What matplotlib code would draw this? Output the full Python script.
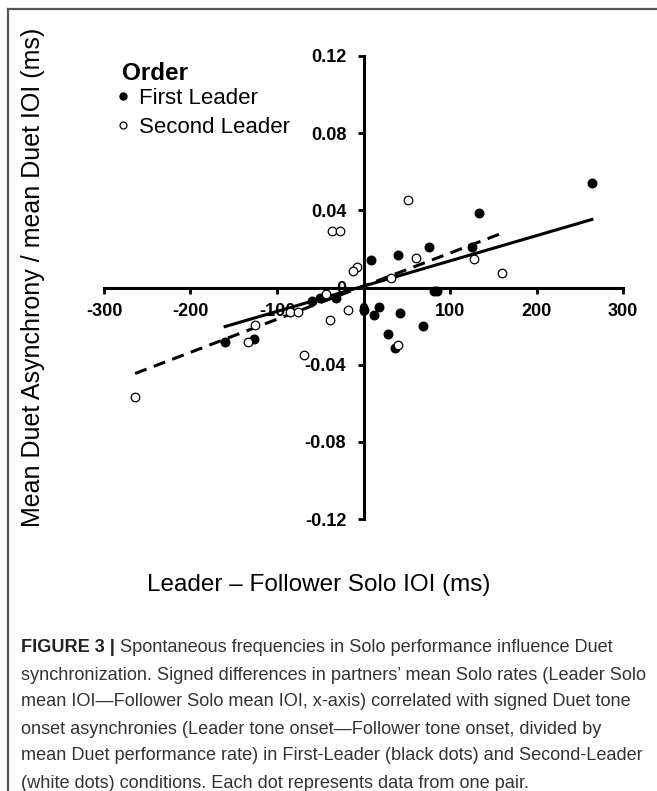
import numpy as np
import matplotlib
matplotlib.use('Agg')
from matplotlib import pyplot as plt
from matplotlib.lines import Line2D

plt.rcParams['axes.unicode_minus'] = False

# First Leader (black dots)
first_x = [264, 133, 126, 76, 40, 9, -160, -127, -59, -50, -32, 0, 18, 12, 42, 69, 28, 36, 81, 85]
first_y = [0.0544, 0.0388, 0.0211, 0.0208, 0.0170, 0.0140, -0.0284, -0.0267, -0.0071, -0.0055,
           -0.0055, -0.0116, -0.0099, -0.0140, -0.0133, -0.0197, -0.0241, -0.0315, -0.0016, -0.0016]

# Second Leader (white dots)
second_x = [51, -36, -27, 61, 128, -8, -12, 32, 160, -43, -18, -39, -69, -85, -76, -125, -133, -264, 40]
second_y = [0.0452, 0.0292, 0.0292, 0.0154, 0.0147, 0.0106, 0.0085, 0.0048, 0.0075, -0.0036,
            -0.0116, -0.0168, -0.0348, -0.0125, -0.0125, -0.0192, -0.0284, -0.0566, -0.0298]

# regression lines (slope, intercept)
first_fit = (1.309e-4, 0.0007)
second_fit = (1.715e-4, 0.0007)

x_ticks = [-300, -200, -100, 0, 100, 200, 300]
y_ticks = [-0.12, -0.08, -0.04, 0, 0.04, 0.08, 0.12]
y_ticklabels = ['-0.12', '-0.08', '-0.04', '0', '0.04', '0.08', '0.12']

caption_lines = [
    'Spontaneous frequencies in Solo performance influence Duet',
    'synchronization. Signed differences in partners\u2019 mean Solo rates (Leader Solo',
    'mean IOI\u2014Follower Solo mean IOI, x-axis) correlated with signed Duet tone',
    'onset asynchronies (Leader tone onset\u2014Follower tone onset, divided by',
    'mean Duet performance rate) in First-Leader (black dots) and Second-Leader',
    '(white dots) conditions. Each dot represents data from one pair.',
]

W, H = 657, 791
fig = plt.figure(figsize=(W / 100, H / 100), dpi=100)
ax = fig.add_axes([104 / W, 1 - 519 / H, 519 / W, 463 / H])

ax.set_xlim(-300, 300)
ax.set_ylim(-0.12, 0.12)
for s in ['top', 'right']:
    ax.spines[s].set_visible(False)
ax.spines['left'].set_position(('data', 0))
ax.spines['bottom'].set_position(('data', 0))
ax.spines['left'].set_linewidth(2.2)
ax.spines['bottom'].set_linewidth(2.2)
ax.set_xticks(x_ticks)
ax.set_yticks(y_ticks)
ax.set_yticklabels(y_ticklabels)
ax.tick_params(direction='out', length=4.5, width=2, labelsize=13, pad=7)
ax.tick_params(axis='y', pad=8)
for lab in ax.get_xticklabels() + ax.get_yticklabels():
    lab.set_fontweight('bold')
    lab.set_family('Liberation Sans')
ax.patch.set_alpha(0)

# regression lines
xs1 = np.array([min(first_x), max(first_x)])
ax.plot(xs1, first_fit[0] * xs1 + first_fit[1], color='black', lw=2.2, zorder=3)
xs2 = np.array([min(second_x), max(second_x)])
ax.plot(xs2, second_fit[0] * xs2 + second_fit[1], color='black', lw=2.2,
        dashes=(4, 2.5), zorder=3)

ax.scatter(first_x, first_y, s=38, color='black', zorder=4, clip_on=False)
ax.scatter(second_x, second_y, s=38, facecolor='white', edgecolor='black',
           linewidth=0.9, zorder=4, clip_on=False)

# legend
fig.text(122 / W, 1 - 74 / H, 'Order', fontsize=17.5, fontweight='bold',
         family='Liberation Sans', va='center', ha='left')
leg_handles = [
    Line2D([], [], marker='o', ls='', color='black', markersize=5),
    Line2D([], [], marker='o', ls='', markerfacecolor='white',
           markeredgecolor='black', markersize=5, markeredgewidth=0.9),
]
fig.legend(leg_handles, ['First Leader', 'Second Leader'], loc='upper left',
           bbox_to_anchor=(116 / W, 1 - 88 / H), frameon=False,
           prop={'family': 'Liberation Sans', 'size': 16}, handlelength=0.6,
           handletextpad=0.45, labelspacing=0.35, borderpad=0, borderaxespad=0)

# axis titles
fig.text(33 / W, 1 - 277 / H, 'Mean Duet Asynchrony / mean Duet IOI (ms)',
         rotation=90, fontsize=18, family='Liberation Sans', ha='center', va='center')
fig.text(319 / W, 1 - 585 / H, 'Leader \u2013 Follower Solo IOI (ms)',
         fontsize=17.5, family='Liberation Sans', ha='center', va='center')

# page frame lines
fig.add_artist(Line2D([8 / W, 1], [1 - 9 / H, 1 - 9 / H], color='#555555', lw=1.6))
fig.add_artist(Line2D([8 / W, 8 / W], [0, 1 - 9 / H], color='#555555', lw=1.6))

# caption
cap_family = ['Liberation Sans Narrow', 'Liberation Sans']
cap_size = 13.5
fig.canvas.draw()
renderer = fig.canvas.get_renderer()
probe = fig.text(0, 0, caption_lines[1], fontsize=cap_size, family=cap_family)
w = probe.get_window_extent(renderer).width
probe.remove()
cap_size = cap_size * 624 / w

x0 = 21 / W
bold = fig.text(x0, 1 - 648 / H, 'FIGURE 3 | ', fontsize=cap_size, family=cap_family,
                fontweight='bold', color='#222222', va='center')
fig.canvas.draw()
bb = bold.get_window_extent(renderer)
fig.text(bb.x1 / W, 1 - 648 / H, caption_lines[0], fontsize=cap_size, family=cap_family,
         color='#333333', va='center')
for i, line in enumerate(caption_lines[1:], start=1):
    fig.text(x0, 1 - (648 + 27 * i) / H, line, fontsize=cap_size, family=cap_family,
             color='#333333', va='center')

fig.savefig('out.png', dpi=100)
